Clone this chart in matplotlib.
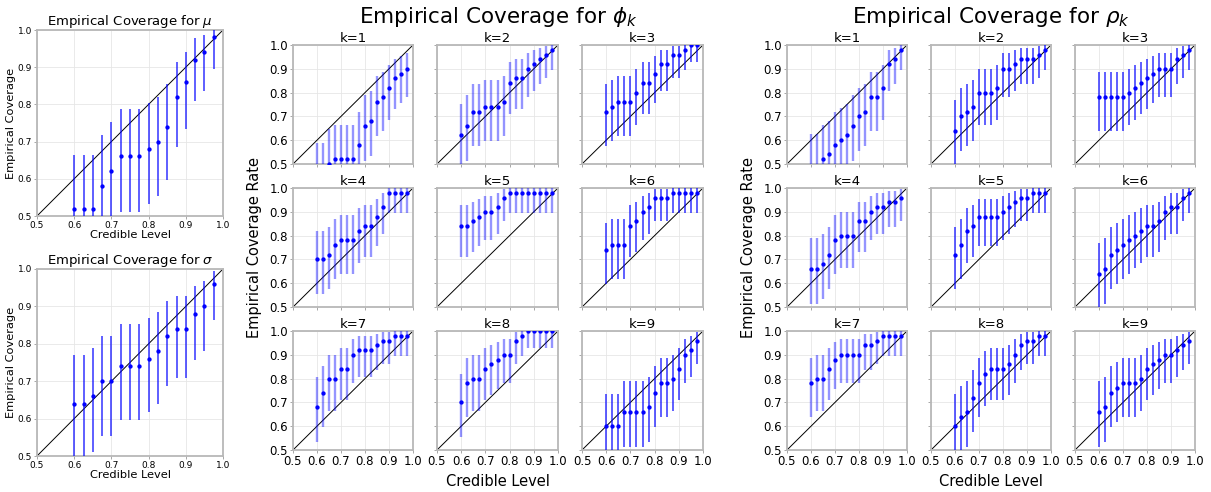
import numpy as np
import matplotlib
matplotlib.use("Agg")
import matplotlib.pyplot as plt

# credible levels tested
levels = [0.6, 0.625, 0.65, 0.675, 0.7, 0.725, 0.75, 0.775,
          0.8, 0.825, 0.85, 0.875, 0.9, 0.925, 0.95, 0.975]

# empirical coverage (50 replications)
cov_mu = [0.52, 0.52, 0.52, 0.58, 0.62, 0.66, 0.66, 0.66,
          0.68, 0.70, 0.74, 0.82, 0.86, 0.92, 0.94, 0.98]
cov_sigma = [0.64, 0.64, 0.66, 0.70, 0.70, 0.74, 0.74, 0.74,
             0.76, 0.78, 0.82, 0.84, 0.84, 0.88, 0.90, 0.96]

cov_phi = [
    [0.44, 0.44, 0.50, 0.52, 0.52, 0.52, 0.52, 0.58, 0.66, 0.68, 0.76, 0.78, 0.82, 0.86, 0.88, 0.90],
    [0.62, 0.66, 0.72, 0.72, 0.74, 0.74, 0.74, 0.76, 0.84, 0.86, 0.86, 0.90, 0.92, 0.94, 0.96, 0.98],
    [0.72, 0.74, 0.76, 0.76, 0.76, 0.80, 0.84, 0.84, 0.88, 0.92, 0.92, 0.96, 0.96, 0.98, 1.00, 1.00],
    [0.70, 0.70, 0.72, 0.76, 0.78, 0.78, 0.78, 0.82, 0.84, 0.84, 0.88, 0.92, 0.98, 0.98, 0.98, 0.98],
    [0.84, 0.84, 0.86, 0.88, 0.90, 0.90, 0.92, 0.96, 0.98, 0.98, 0.98, 0.98, 0.98, 0.98, 0.98, 0.98],
    [0.74, 0.76, 0.76, 0.76, 0.84, 0.86, 0.90, 0.92, 0.96, 0.96, 0.96, 0.98, 0.98, 0.98, 0.98, 0.98],
    [0.68, 0.74, 0.80, 0.80, 0.84, 0.84, 0.90, 0.92, 0.92, 0.92, 0.94, 0.96, 0.96, 0.98, 0.98, 0.98],
    [0.70, 0.78, 0.80, 0.80, 0.84, 0.86, 0.88, 0.90, 0.90, 0.96, 0.98, 1.00, 1.00, 1.00, 1.00, 1.00],
    [0.60, 0.60, 0.60, 0.66, 0.66, 0.66, 0.66, 0.68, 0.74, 0.78, 0.78, 0.80, 0.84, 0.90, 0.92, 0.96],
]

cov_rho = [
    [0.48, 0.48, 0.52, 0.54, 0.58, 0.60, 0.62, 0.66, 0.70, 0.72, 0.78, 0.78, 0.82, 0.92, 0.94, 0.98],
    [0.64, 0.70, 0.72, 0.74, 0.80, 0.80, 0.80, 0.82, 0.90, 0.90, 0.92, 0.94, 0.94, 0.94, 0.96, 0.98],
    [0.78, 0.78, 0.78, 0.78, 0.78, 0.80, 0.82, 0.84, 0.86, 0.88, 0.90, 0.90, 0.90, 0.94, 0.96, 0.98],
    [0.66, 0.66, 0.68, 0.72, 0.78, 0.80, 0.80, 0.80, 0.86, 0.86, 0.90, 0.92, 0.92, 0.94, 0.94, 0.96],
    [0.72, 0.76, 0.82, 0.84, 0.88, 0.88, 0.88, 0.88, 0.90, 0.92, 0.94, 0.96, 0.96, 0.98, 0.98, 0.98],
    [0.64, 0.66, 0.72, 0.74, 0.76, 0.78, 0.80, 0.82, 0.84, 0.84, 0.86, 0.90, 0.92, 0.92, 0.96, 0.98],
    [0.78, 0.80, 0.80, 0.84, 0.88, 0.90, 0.90, 0.90, 0.90, 0.94, 0.94, 0.96, 0.98, 0.98, 0.98, 0.98],
    [0.60, 0.64, 0.66, 0.72, 0.78, 0.82, 0.84, 0.84, 0.84, 0.86, 0.90, 0.94, 0.96, 0.96, 0.98, 0.98],
    [0.66, 0.68, 0.74, 0.76, 0.78, 0.78, 0.78, 0.80, 0.84, 0.86, 0.88, 0.90, 0.90, 0.92, 0.94, 0.96],
]

# interval bounds for each coverage value
ci_cov = [0.44, 0.46, 0.48, 0.50, 0.52, 0.54, 0.56, 0.58, 0.60, 0.62, 0.64, 0.66, 0.68,
          0.70, 0.72, 0.74, 0.76, 0.78, 0.80, 0.82, 0.84, 0.86, 0.88, 0.90, 0.92,
          0.94, 0.96, 0.98, 1.00]
ci_lo = [0.300, 0.318, 0.337, 0.355, 0.374, 0.393, 0.412, 0.432, 0.452, 0.472, 0.492, 0.512, 0.533,
         0.554, 0.575, 0.597, 0.618, 0.640, 0.663, 0.686, 0.709, 0.733, 0.757, 0.782, 0.808,
         0.835, 0.863, 0.894, 0.929]
ci_hi = [0.587, 0.607, 0.626, 0.645, 0.663, 0.681, 0.700, 0.718, 0.736, 0.753, 0.771, 0.788, 0.805,
         0.821, 0.838, 0.854, 0.869, 0.885, 0.900, 0.914, 0.928, 0.942, 0.955, 0.967, 0.978,
         0.987, 0.995, 0.9995, 1.000]

W, H = 1211, 492


def ax_at(fig, x0, y0, x1, y1):
    return fig.add_axes([x0 / W, 1 - y1 / H, (x1 - x0) / W, (y1 - y0) / H])


def draw(ax, cov, light=False, ticksize=8):
    cov = np.array(cov)
    idx = [ci_cov.index(round(c, 2)) for c in cov]
    lo = np.array([ci_lo[i] for i in idx])
    hi = np.array([ci_hi[i] for i in idx])
    ax.plot([0.5, 1.0], [0.5, 1.0], color='k', lw=0.7, zorder=2)
    if light:
        ax.vlines(levels, lo, hi, color='blue', lw=1.7, alpha=0.42, zorder=3)
    else:
        ax.vlines(levels, lo, hi, color='blue', lw=1.1, alpha=0.8, zorder=3)
    ax.plot(levels, cov, 'o', color='blue', ms=2.1, zorder=4)
    ax.set_xlim(0.5, 1.0)
    ax.set_ylim(0.5, 1.0)
    ticks = [0.5, 0.6, 0.7, 0.8, 0.9, 1.0]
    ax.set_xticks(ticks)
    ax.set_yticks(ticks)
    ax.grid(color='0.9', lw=0.6)
    ax.set_axisbelow(True)
    for s in ax.spines.values():
        s.set_color('0.72')
        s.set_linewidth(1.3)
    ax.tick_params(labelsize=ticksize, length=2.5, width=0.6, color='0.6', pad=1)


def main():
    fig = plt.figure(figsize=(W / 100, H / 100), dpi=100)

    # left column: mu and sigma
    ax = ax_at(fig, 37, 30, 223, 216)
    draw(ax, cov_mu, ticksize=6.5)
    ax.set_title(r"Empirical Coverage for $\mu$", fontsize=9.5, pad=2)
    ax.set_ylabel("Empirical Coverage", fontsize=8.2, labelpad=1)
    ax.set_xlabel("Credible Level", fontsize=8.2, labelpad=0)

    ax = ax_at(fig, 37, 269, 223, 456)
    draw(ax, cov_sigma, ticksize=6.5)
    ax.set_title(r"Empirical Coverage for $\sigma$", fontsize=9.5, pad=2)
    ax.set_ylabel("Empirical Coverage", fontsize=8.2, labelpad=1)
    ax.set_xlabel("Credible Level", fontsize=8.2, labelpad=0)

    rows_y = [(45, 164), (188, 307), (331, 450)]
    grids = [
        (cov_phi, [(293, 413), (437, 558), (582, 703)], r"Empirical Coverage for $\phi_k$",
         [True, True, False]),
        (cov_rho, [(787, 907), (931, 1051), (1075, 1195)], r"Empirical Coverage for $\rho_k$",
         [True, False, False]),
    ]
    for covs, cols_x, title, light_cols in grids:
        for k in range(9):
            r, c = divmod(k, 3)
            x0, x1 = cols_x[c]
            y0, y1 = rows_y[r]
            ax = ax_at(fig, x0, y0, x1, y1)
            draw(ax, covs[k], light=light_cols[c], ticksize=8.5)
            ax.set_title(f"k={k + 1}", fontsize=9.5, pad=1.5)
            if c > 0:
                ax.set_yticklabels([])
            if r < 2:
                ax.set_xticklabels([])
        xm = (cols_x[0][0] + cols_x[2][1]) / 2
        fig.text(xm / W, 1 - 17 / H, title, fontsize=15.5, ha='center', va='center')
        fig.text(xm / W, 1 - 481 / H, "Credible Level", fontsize=10.5, ha='center', va='center')
        fig.text((cols_x[0][0] - 38) / W, 1 - 247 / H, "Empirical Coverage Rate",
                 fontsize=10.5, ha='center', va='center', rotation=90)

    fig.savefig("out.png", dpi=100)


if __name__ == '__main__':
    main()
